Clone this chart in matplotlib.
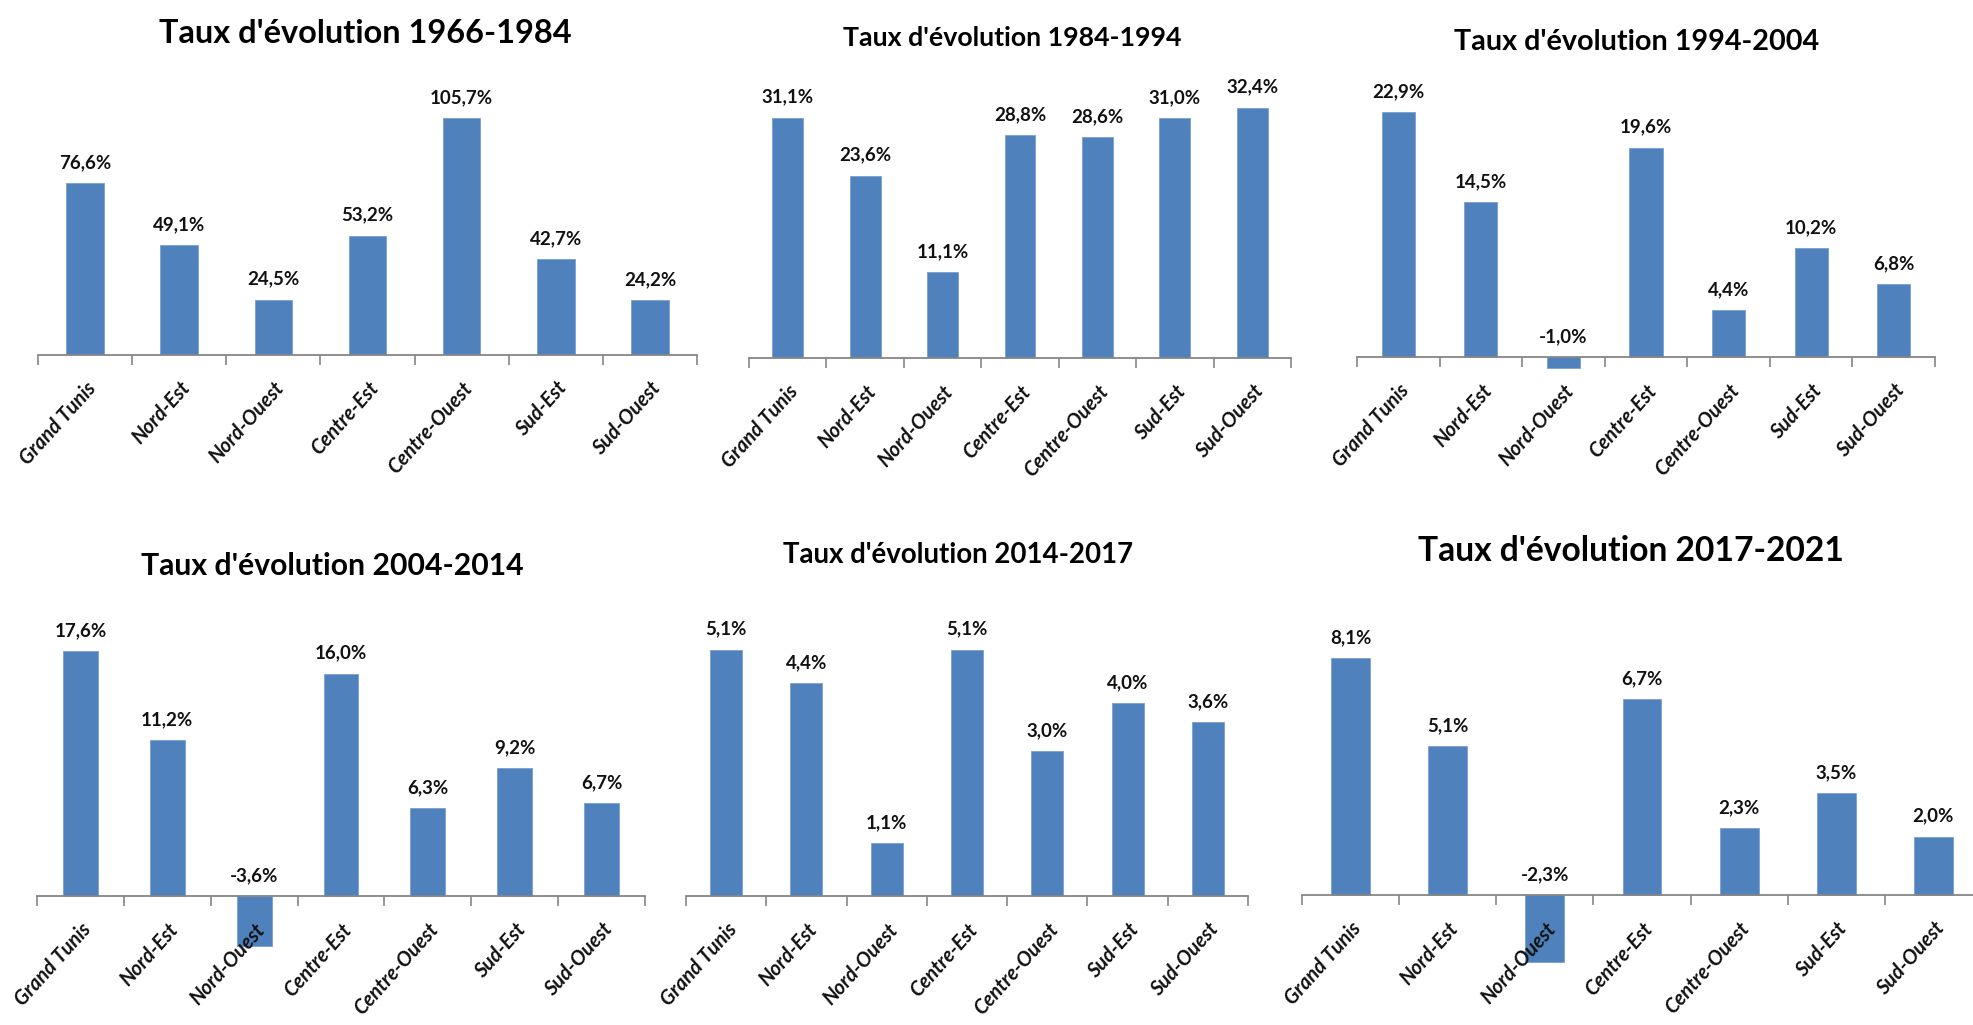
import matplotlib.pyplot as plt
from matplotlib.transforms import ScaledTranslation
import numpy as np

plt.rcParams['font.family'] = ['Lato', 'DejaVu Sans']

regions = ["Grand Tunis", "Nord-Est", "Nord-Ouest", "Centre-Est",
           "Centre-Ouest", "Sud-Est", "Sud-Ouest"]

periods = ["1966-1984", "1984-1994", "1994-2004",
           "2004-2014", "2014-2017", "2017-2021"]

taux_1966_1984 = [76.6, 49.1, 24.5, 53.2, 105.7, 42.7, 24.2]
taux_1984_1994 = [31.1, 23.6, 11.1, 28.8, 28.6, 31.0, 32.4]
taux_1994_2004 = [22.9, 14.5, -1.0, 19.6, 4.4, 10.2, 6.8]
taux_2004_2014 = [17.6, 11.2, -3.6, 16.0, 6.3, 9.2, 6.7]
taux_2014_2017 = [5.1, 4.4, 1.1, 5.1, 3.0, 4.0, 3.6]
taux_2017_2021 = [8.1, 5.1, -2.3, 6.7, 2.3, 3.5, 2.0]

series = [taux_1966_1984, taux_1984_1994, taux_1994_2004,
          taux_2004_2014, taux_2014_2017, taux_2017_2021]

# layout in pixels of the 1973x1025 canvas:
# left, right, zero line y, px per unit, ymin, ymax, title x, title baseline y, title size
W, H = 1973, 1025
layout = [
    (38, 697, 354.5, 2.235, 0, 120, 365, 43, 23.4),
    (749, 1291, 358, 7.73, 0, 35, 1012, 46, 19.3),
    (1357, 1935, 357, 10.68, -5, 25, 1637, 50, 20.7),
    (37, 645, 896, 13.9, -5, 20, 332, 575, 21.7),
    (686, 1248, 896, 48.3, 0, 6, 958, 563, 19.9),
    (1302, 1982, 895, 29.2, -4, 10, 1631, 561, 24.2),
]

bar_color = '#4F81BD'
axis_color = '#868686'

fig = plt.figure(figsize=(W / 100, H / 100), dpi=100)
shift = ScaledTranslation(4 / 100, 0, fig.dpi_scale_trans)

for vals, period, (l, r, zy, ppu, ymin, ymax, tx, ty, tsize) in zip(series, periods, layout):
    bottom_px = zy - ymin * ppu
    rect = [l / W, 1 - bottom_px / H, (r - l) / W, (ymax - ymin) * ppu / H]
    ax = fig.add_axes(rect)
    x = np.arange(len(regions))
    ax.bar(x, vals, width=0.4, color=bar_color, edgecolor='#7A9FCF', linewidth=0.6)
    ax.set_xlim(-0.5, len(regions) - 0.5)
    ax.set_ylim(ymin, ymax)

    for sp in ['top', 'right', 'left']:
        ax.spines[sp].set_visible(False)
    ax.spines['bottom'].set_position(('data', 0))
    ax.spines['bottom'].set_color(axis_color)
    ax.spines['bottom'].set_linewidth(1.3)
    ax.set_yticks([])

    ax.set_xticks(x)
    ax.set_xticklabels(regions, rotation=48, ha='right', va='top',
                       rotation_mode='anchor', fontsize=14.5,
                       fontweight='bold', fontstyle='italic', color='#111111')
    for lbl in ax.get_xticklabels():
        lbl.set_transform(lbl.get_transform() + shift)
    ax.set_xticks(np.arange(len(regions) + 1) - 0.5, minor=True)
    ax.tick_params(axis='x', which='major', length=0, pad=17)
    ax.tick_params(axis='x', which='minor', length=7.2, width=1.2,
                   color=axis_color, direction='out')

    for i, v in enumerate(vals):
        ax.annotate(f"{v:.1f}%".replace('.', ','), xy=(i, max(v, 0)),
                    xytext=(0, 10.8), textcoords='offset points',
                    ha='center', va='baseline', fontsize=13.5,
                    fontweight='bold', color='#111111')

    fig.text(tx / W, 1 - ty / H, "Taux d'évolution " + period,
             ha='center', va='baseline', fontsize=tsize, fontweight='bold')

fig.savefig('out.png', dpi=100)
